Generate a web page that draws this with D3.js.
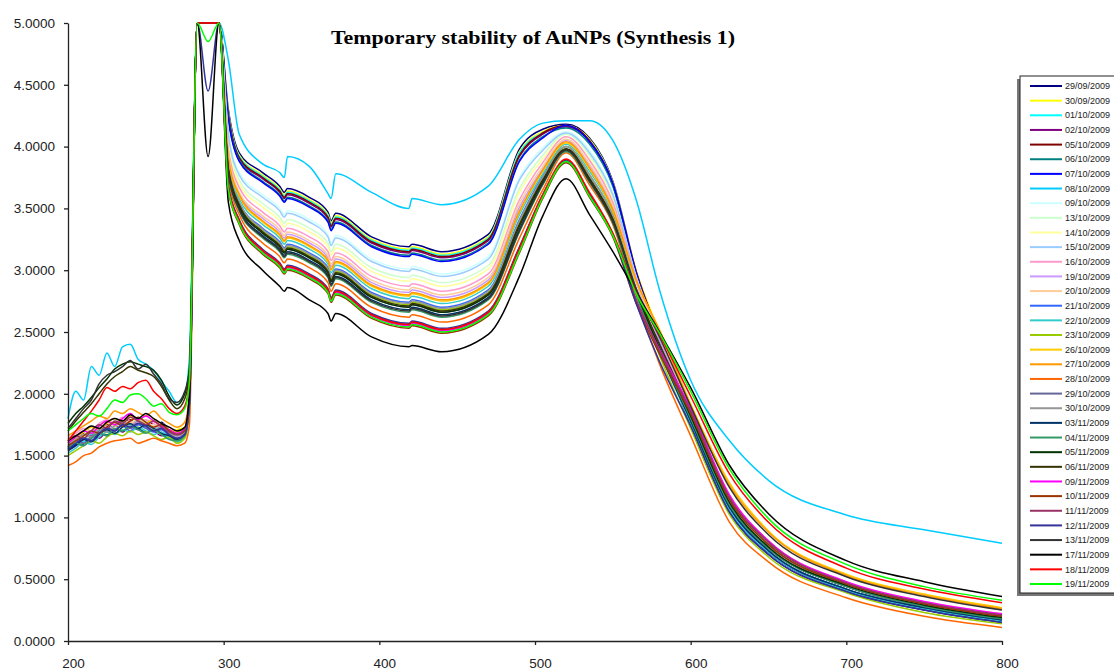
<!DOCTYPE html>
<html>
<head>
<meta charset="utf-8">
<script src="https://cdn.jsdelivr.net/npm/d3@7"></script>
<style>
    body { margin: 0; background: #fff; }
    svg { display: block; font-family: "Liberation Sans", Arial, sans-serif; }
</style>
</head>
<body>
<div id="chart"></div>
<script>
// wavelength grid (nm) shared by every spectrum
var wavelengths = [200, 205, 210, 215, 220, 225, 230, 235, 240, 245, 250, 255, 260, 265, 270, 275, 278,
    283, 290, 297,
    303, 310, 325, 336, 339, 341, 355, 367, 369, 372, 395, 419, 421, 440,
    470, 490, 505, 520, 535, 550, 565, 580, 600, 625, 650, 700, 750, 800];

var dates = ['29/09/2009', '30/09/2009', '01/10/2009', '02/10/2009', '05/10/2009', '06/10/2009', '07/10/2009',
    '08/10/2009', '09/10/2009', '13/10/2009', '14/10/2009', '15/10/2009', '16/10/2009', '19/10/2009',
    '20/10/2009', '21/10/2009', '22/10/2009', '23/10/2009', '26/10/2009', '27/10/2009', '28/10/2009',
    '29/10/2009', '30/10/2009', '03/11/2009', '04/11/2009', '05/11/2009', '06/11/2009', '09/11/2009',
    '10/11/2009', '11/11/2009', '12/11/2009', '13/11/2009', '17/11/2009', '18/11/2009', '19/11/2009'];

var colors = ['#000080', '#FFFF00', '#00FFFF', '#800080', '#800000', '#008080', '#0000FF', '#00CCFF',
    '#CCFFFF', '#CCFFCC', '#FFFF99', '#99CCFF', '#FF99CC', '#CC99FF', '#FFCC99', '#3366FF', '#33CCCC',
    '#99CC00', '#FFCC00', '#FF9900', '#FF6600', '#666699', '#969696', '#003366', '#339966', '#003300',
    '#333300', '#FF00FF', '#993300', '#993366', '#333399', '#333333', '#000000', '#FF0000', '#00FF00'];

// one row per date, same order as dates
var absorbance = [
    [1.56,1.60,1.65,1.68,1.72,1.70,1.75,1.78,1.74,1.79,1.76,1.73,1.77,1.70,1.66,1.68,1.95, 5.3,5.3,5.3, 4.30,3.95,3.79,3.68,3.63,3.66,3.59,3.47,3.40,3.46,3.27,3.19,3.21,3.15, 3.29,3.98,4.14,4.18,4.07,3.72,2.99,2.43,1.74,1.04,0.70,0.40,0.25,0.15],
    [1.62,1.66,1.64,1.70,1.74,1.78,1.73,1.76,1.81,1.77,1.74,1.78,1.72,1.69,1.71,1.73,2.00, 5.3,5.3,5.3, 4.28,3.93,3.77,3.66,3.61,3.64,3.57,3.45,3.38,3.44,3.25,3.17,3.19,3.13, 3.27,3.96,4.12,4.17,4.06,3.71,3.00,2.49,1.82,1.12,0.76,0.45,0.29,0.19],
    [1.58,1.63,1.61,1.67,1.71,1.69,1.74,1.77,1.73,1.76,1.74,1.71,1.74,1.68,1.65,1.69,1.95, 5.3,5.3,5.3, 4.27,3.92,3.76,3.65,3.60,3.63,3.56,3.44,3.37,3.43,3.24,3.16,3.18,3.12, 3.26,3.95,4.11,4.16,4.05,3.70,2.98,2.45,1.78,1.08,0.73,0.42,0.27,0.17],
    [1.54,1.58,1.63,1.66,1.64,1.70,1.72,1.69,1.74,1.71,1.73,1.70,1.66,1.68,1.63,1.66,1.90, 5.3,5.3,5.3, 4.25,3.90,3.74,3.63,3.58,3.61,3.54,3.42,3.35,3.41,3.22,3.14,3.16,3.10, 3.24,3.92,4.10,4.16,4.04,3.69,2.97,2.44,1.76,1.06,0.72,0.41,0.26,0.16],
    [1.60,1.64,1.68,1.65,1.71,1.75,1.72,1.77,1.79,1.74,1.78,1.75,1.71,1.69,1.67,1.70,1.95, 5.3,5.3,5.3, 4.26,3.91,3.75,3.64,3.59,3.62,3.55,3.43,3.36,3.42,3.23,3.15,3.17,3.11, 3.25,3.93,4.11,4.17,4.05,3.70,2.99,2.47,1.80,1.10,0.75,0.44,0.28,0.18],
    [1.57,1.61,1.59,1.64,1.69,1.67,1.72,1.70,1.75,1.72,1.69,1.72,1.68,1.64,1.62,1.67,1.92, 5.3,5.3,5.3, 4.23,3.89,3.72,3.61,3.56,3.59,3.52,3.40,3.33,3.39,3.20,3.12,3.14,3.08, 3.22,3.89,4.08,4.15,4.02,3.68,2.97,2.45,1.78,1.08,0.73,0.42,0.27,0.17],
    [1.55,1.59,1.64,1.62,1.68,1.72,1.70,1.75,1.73,1.77,1.74,1.72,1.75,1.69,1.64,1.68,1.92, 5.3,5.3,5.3, 4.22,3.88,3.71,3.60,3.55,3.58,3.51,3.39,3.32,3.38,3.19,3.11,3.13,3.07, 3.21,3.88,4.07,4.17,4.04,3.70,2.98,2.44,1.76,1.06,0.72,0.41,0.26,0.16],
    [1.80,2.02,1.95,2.22,2.15,2.33,2.22,2.38,2.40,2.28,2.24,2.19,2.10,2.02,1.93,2.00,2.30, 5.3,5.3,5.3, 4.70,4.10,3.86,3.79,3.75,3.92,3.84,3.62,3.58,3.78,3.63,3.50,3.58,3.53, 3.68,4.06,4.19,4.21,4.21,4.05,3.57,2.84,2.11,1.62,1.30,1.02,0.90,0.79],
    [1.59,1.63,1.67,1.70,1.68,1.73,1.76,1.73,1.78,1.75,1.72,1.75,1.70,1.67,1.64,1.68,1.95, 5.3,5.3,5.3, 4.12,3.79,3.61,3.50,3.45,3.48,3.41,3.29,3.22,3.28,3.09,3.01,3.03,2.97, 3.11,3.75,3.99,4.12,3.97,3.62,2.95,2.46,1.82,1.12,0.76,0.45,0.29,0.19],
    [1.63,1.67,1.65,1.71,1.74,1.72,1.77,1.80,1.76,1.81,1.78,1.74,1.76,1.71,1.68,1.71,1.98, 5.3,5.3,5.3, 4.05,3.73,3.54,3.43,3.38,3.41,3.34,3.22,3.15,3.21,3.02,2.94,2.96,2.90, 3.04,3.66,3.93,4.10,3.93,3.59,2.94,2.46,1.84,1.14,0.78,0.46,0.30,0.20],
    [1.56,1.61,1.66,1.64,1.70,1.68,1.73,1.71,1.77,1.74,1.71,1.73,1.69,1.66,1.64,1.67,1.92, 5.3,5.3,5.3, 4.02,3.70,3.51,3.40,3.35,3.38,3.31,3.19,3.12,3.18,2.99,2.91,2.93,2.87, 3.01,3.63,3.90,4.08,3.90,3.56,2.92,2.45,1.84,1.14,0.78,0.46,0.30,0.20],
    [1.61,1.65,1.63,1.69,1.73,1.70,1.75,1.78,1.74,1.79,1.76,1.72,1.74,1.69,1.66,1.70,1.96, 5.3,5.3,5.3, 4.10,3.77,3.59,3.48,3.43,3.46,3.39,3.27,3.20,3.26,3.07,2.99,3.01,2.95, 3.09,3.73,3.97,4.11,3.95,3.61,2.94,2.45,1.82,1.12,0.76,0.45,0.29,0.19],
    [1.64,1.68,1.72,1.70,1.76,1.79,1.76,1.81,1.78,1.75,1.79,1.76,1.72,1.70,1.67,1.71,1.98, 5.3,5.3,5.3, 3.98,3.67,3.47,3.36,3.31,3.34,3.27,3.15,3.08,3.14,2.95,2.87,2.89,2.83, 2.97,3.57,3.87,4.08,3.89,3.55,2.93,2.46,1.86,1.16,0.80,0.47,0.31,0.21],
    [1.58,1.62,1.60,1.66,1.70,1.74,1.71,1.76,1.73,1.77,1.74,1.70,1.73,1.68,1.65,1.68,1.94, 5.3,5.3,5.3, 3.93,3.62,3.42,3.31,3.26,3.29,3.22,3.10,3.03,3.09,2.90,2.82,2.84,2.78, 2.92,3.51,3.82,4.05,3.85,3.51,2.90,2.43,1.84,1.14,0.78,0.46,0.30,0.20],
    [1.62,1.66,1.70,1.68,1.73,1.77,1.74,1.79,1.76,1.80,1.77,1.74,1.76,1.71,1.69,1.72,1.97, 5.3,5.3,5.3, 3.95,3.63,3.44,3.33,3.28,3.31,3.24,3.12,3.05,3.11,2.92,2.84,2.86,2.80, 2.94,3.54,3.84,4.06,3.86,3.52,2.91,2.47,1.88,1.18,0.81,0.48,0.32,0.22],
    [1.55,1.60,1.58,1.64,1.68,1.66,1.71,1.74,1.70,1.75,1.72,1.69,1.71,1.66,1.63,1.66,1.92, 5.3,5.3,5.3, 3.85,3.55,3.34,3.23,3.18,3.21,3.14,3.02,2.95,3.01,2.82,2.74,2.76,2.70, 2.84,3.41,3.76,4.00,3.77,3.44,2.84,2.36,1.78,1.08,0.73,0.42,0.27,0.17],
    [1.52,1.56,1.61,1.59,1.65,1.69,1.67,1.71,1.69,1.73,1.70,1.67,1.69,1.64,1.61,1.65,1.90, 5.3,5.3,5.3, 3.88,3.58,3.37,3.26,3.21,3.24,3.17,3.05,2.98,3.04,2.85,2.77,2.79,2.73, 2.87,3.45,3.78,4.02,3.80,3.47,2.85,2.35,1.76,1.06,0.72,0.41,0.26,0.16],
    [1.50,1.54,1.58,1.62,1.60,1.65,1.68,1.66,1.70,1.67,1.69,1.66,1.63,1.65,1.60,1.64,1.88, 5.3,5.3,5.3, 3.83,3.54,3.32,3.21,3.16,3.19,3.12,3.00,2.93,2.99,2.80,2.72,2.74,2.68, 2.82,3.38,3.74,4.00,3.77,3.44,2.82,2.31,1.72,1.02,0.68,0.39,0.23,0.14],
    [1.60,1.64,1.69,1.73,1.71,1.76,1.80,1.77,1.82,1.79,1.76,1.80,1.74,1.71,1.69,1.72,1.98, 5.3,5.3,5.3, 3.90,3.60,3.39,3.28,3.23,3.26,3.19,3.07,3.00,3.06,2.87,2.79,2.81,2.75, 2.89,3.47,3.80,4.03,3.82,3.48,2.91,2.52,1.92,1.28,0.89,0.54,0.38,0.27],
    [1.66,1.70,1.74,1.78,1.82,1.80,1.86,1.84,1.88,1.85,1.82,1.86,1.80,1.76,1.73,1.77,2.02, 5.3,5.3,5.3, 3.91,3.61,3.40,3.29,3.24,3.27,3.20,3.08,3.01,3.07,2.88,2.80,2.82,2.76, 2.90,3.48,3.81,4.04,3.83,3.49,2.92,2.51,1.90,1.26,0.88,0.53,0.37,0.26],
    [1.42,1.45,1.50,1.52,1.57,1.60,1.62,1.63,1.64,1.60,1.62,1.64,1.62,1.60,1.58,1.60,1.75, 5.3,5.3,5.3, 3.73,3.45,3.22,3.11,3.06,3.09,3.02,2.90,2.83,2.89,2.70,2.62,2.64,2.58, 2.72,3.26,3.65,3.95,3.69,3.37,2.76,2.24,1.66,0.96,0.64,0.35,0.20,0.11],
    [1.57,1.62,1.60,1.66,1.70,1.73,1.70,1.75,1.72,1.76,1.73,1.70,1.72,1.67,1.64,1.68,1.93, 5.3,5.3,5.3, 3.81,3.52,3.30,3.19,3.14,3.17,3.10,2.98,2.91,2.97,2.78,2.70,2.72,2.66, 2.80,3.36,3.72,3.98,3.74,3.41,2.82,2.36,1.80,1.10,0.75,0.44,0.28,0.18],
    [1.59,1.63,1.67,1.65,1.71,1.69,1.74,1.77,1.73,1.78,1.75,1.71,1.73,1.68,1.66,1.69,1.95, 5.3,5.3,5.3, 3.84,3.55,3.33,3.22,3.17,3.20,3.13,3.01,2.94,3.00,2.81,2.73,2.75,2.69, 2.83,3.40,3.75,4.00,3.77,3.44,2.85,2.40,1.84,1.14,0.78,0.46,0.30,0.20],
    [1.54,1.58,1.63,1.61,1.67,1.71,1.68,1.73,1.76,1.72,1.75,1.72,1.68,1.66,1.63,1.67,1.92, 5.3,5.3,5.3, 3.79,3.50,3.28,3.17,3.12,3.15,3.08,2.96,2.89,2.95,2.76,2.68,2.70,2.64, 2.78,3.33,3.71,3.97,3.73,3.40,2.81,2.34,1.78,1.08,0.73,0.42,0.27,0.17],
    [1.56,1.60,1.58,1.64,1.68,1.66,1.72,1.70,1.74,1.71,1.68,1.71,1.67,1.63,1.62,1.66,1.90, 5.3,5.3,5.3, 3.77,3.48,3.26,3.15,3.10,3.13,3.06,2.94,2.87,2.93,2.74,2.66,2.68,2.62, 2.76,3.31,3.69,3.96,3.71,3.38,2.80,2.35,1.80,1.10,0.75,0.44,0.28,0.18],
    [1.76,1.84,1.90,1.97,2.05,2.12,2.20,2.24,2.26,2.24,2.22,2.19,2.11,1.98,1.91,2.00,2.20, 5.3,5.3,5.3, 3.81,3.52,3.30,3.19,3.14,3.17,3.10,2.98,2.91,2.97,2.78,2.70,2.72,2.66, 2.80,3.36,3.72,3.98,3.74,3.41,2.83,2.37,1.82,1.12,0.76,0.45,0.29,0.19],
    [1.70,1.78,1.85,1.92,2.00,2.08,2.14,2.18,2.22,2.19,2.17,2.14,2.06,1.95,1.88,1.96,2.15, 5.3,5.3,5.3, 3.82,3.53,3.31,3.20,3.15,3.18,3.11,2.99,2.92,2.98,2.79,2.71,2.73,2.67, 2.81,3.37,3.73,3.98,3.74,3.41,2.84,2.40,1.86,1.16,0.80,0.47,0.31,0.21],
    [1.60,1.65,1.70,1.68,1.74,1.78,1.75,1.80,1.84,1.79,1.82,1.78,1.74,1.71,1.68,1.72,1.98, 5.3,5.3,5.3, 3.66,3.39,3.15,3.04,2.99,3.02,2.95,2.83,2.76,2.82,2.63,2.55,2.57,2.51, 2.65,3.17,3.60,3.88,3.60,3.28,2.75,2.36,1.88,1.18,0.81,0.48,0.32,0.22],
    [1.58,1.62,1.66,1.70,1.68,1.73,1.77,1.74,1.78,1.81,1.77,1.73,1.75,1.70,1.67,1.70,1.96, 5.3,5.3,5.3, 3.64,3.37,3.13,3.02,2.97,3.00,2.93,2.81,2.74,2.80,2.61,2.53,2.55,2.49, 2.63,3.14,3.58,3.87,3.59,3.27,2.73,2.32,1.84,1.14,0.78,0.46,0.30,0.20],
    [1.62,1.66,1.64,1.70,1.75,1.72,1.78,1.76,1.81,1.78,1.75,1.78,1.73,1.69,1.67,1.71,1.97, 5.3,5.3,5.3, 3.67,3.40,3.16,3.05,3.00,3.03,2.96,2.84,2.77,2.83,2.64,2.56,2.58,2.52, 2.66,3.18,3.61,3.89,3.61,3.29,2.76,2.35,1.86,1.16,0.80,0.47,0.31,0.21],
    [1.55,1.60,1.64,1.62,1.68,1.72,1.70,1.75,1.73,1.76,1.74,1.70,1.72,1.67,1.64,1.67,1.92, 5.3,4.45,5.3, 3.68,3.41,3.17,3.06,3.01,3.04,2.97,2.85,2.78,2.84,2.65,2.57,2.59,2.53, 2.67,3.19,3.61,3.89,3.62,3.29,2.73,2.26,1.74,1.04,0.70,0.40,0.25,0.15],
    [1.72,1.80,1.88,1.95,2.08,2.15,2.18,2.22,2.27,2.20,2.24,2.16,2.08,1.96,1.93,2.02,2.20, 5.3,5.3,5.3, 3.78,3.49,3.27,3.16,3.11,3.14,3.07,2.95,2.88,2.94,2.75,2.67,2.69,2.63, 2.77,3.32,3.70,3.97,3.72,3.39,2.85,2.46,1.90,1.24,0.86,0.52,0.36,0.25],
    [1.62,1.66,1.70,1.74,1.72,1.77,1.80,1.78,1.83,1.80,1.84,1.80,1.76,1.73,1.70,1.73,2.00, 5.3,3.92,5.3, 3.55,3.24,3.00,2.87,2.83,2.86,2.76,2.65,2.59,2.65,2.46,2.38,2.39,2.34, 2.48,2.95,3.44,3.74,3.45,3.15,2.82,2.50,2.05,1.42,1.03,0.65,0.48,0.36],
    [1.62,1.70,1.78,1.86,1.95,2.05,2.02,2.06,2.04,2.09,2.11,2.02,1.96,1.88,1.84,1.90,2.10, 5.3,5.3,5.3, 3.67,3.40,3.16,3.05,3.00,3.03,2.96,2.84,2.77,2.83,2.64,2.56,2.58,2.52, 2.66,3.18,3.61,3.90,3.63,3.30,2.82,2.48,1.98,1.35,0.96,0.59,0.42,0.31],
    [1.70,1.75,1.80,1.84,1.82,1.88,1.95,1.93,1.99,2.00,1.96,1.90,1.92,1.85,1.83,1.88,2.10, 5.3,4.85,5.3, 3.65,3.38,3.14,3.03,2.98,3.01,2.94,2.82,2.75,2.81,2.62,2.54,2.56,2.50, 2.64,3.15,3.59,3.88,3.60,3.28,2.81,2.49,2.02,1.39,0.99,0.62,0.44,0.33]
];

var xTicks = [200, 300, 400, 500, 600, 700, 800];
var yTicks = [0, 0.5, 1, 1.5, 2, 2.5, 3, 3.5, 4, 4.5, 5];

var width = 1114, height = 672;
var svg = d3.select('#chart').append('svg')
    .attr('width', width)
    .attr('height', height);

var x = d3.scaleLinear().domain([200, 800]).range([68, 1002]);
var y = d3.scaleLinear().domain([0, 5]).range([641, 23]);

// excel pins anything above the axis max to the top edge
var line = d3.line()
    .x(function (d, i) { return x(wavelengths[i]); })
    .y(function (d) { return y(Math.min(d, 5)); })
    .curve(d3.curveMonotoneX);

svg.append('g')
    .attr('class', 'spectra')
    .selectAll('path')
    .data(absorbance)
    .join('path')
    .attr('d', line)
    .attr('fill', 'none')
    .attr('stroke', function (d, i) { return colors[i]; })
    .attr('stroke-width', 1.5)
    .attr('stroke-linejoin', 'round');

var yAxis = svg.append('g')
    .attr('transform', 'translate(68,0)')
    .call(d3.axisLeft(y).tickValues(yTicks).tickFormat(d3.format('.4f'))
        .tickSize(4).tickSizeOuter(0).tickPadding(9));

var xAxis = svg.append('g')
    .attr('transform', 'translate(0,641)')
    .call(d3.axisBottom(x).tickValues(xTicks).tickFormat(d3.format('d'))
        .tickSize(4).tickSizeOuter(0).tickPadding(13));

xAxis.selectAll('text').attr('x', 5);

[xAxis, yAxis].forEach(function (axis) {
    axis.select('.domain').attr('stroke', '#222').attr('stroke-width', 1.3);
    axis.selectAll('.tick line').attr('stroke', '#222').attr('stroke-width', 1.3);
    axis.selectAll('text')
        .attr('fill', '#222')
        .style('font-family', '"Liberation Sans", Arial, sans-serif')
        .style('font-size', '13.5px');
});

svg.append('text')
    .attr('x', 533)
    .attr('y', 44)
    .attr('text-anchor', 'middle')
    .attr('textLength', 404)
    .attr('lengthAdjust', 'spacingAndGlyphs')
    .style('font-family', '"Liberation Serif", "Times New Roman", serif')
    .style('font-weight', 'bold')
    .style('font-size', '19px')
    .text('Temporary stability of AuNPs (Synthesis 1)');

// legend, cut off by the right edge like the original
var legendY = d3.scalePoint().domain(dates).range([86, 584]);
var legend = svg.append('g').attr('class', 'legend');

legend.append('rect')
    .attr('x', 1017).attr('y', 79)
    .attr('width', 120).attr('height', 517)
    .attr('fill', '#777');

legend.append('rect')
    .attr('x', 1020).attr('y', 76)
    .attr('width', 120).attr('height', 517)
    .attr('fill', '#fff')
    .attr('stroke', '#222')
    .attr('stroke-width', 1);

var items = legend.selectAll('g.item')
    .data(dates)
    .join('g')
    .attr('class', 'item')
    .attr('transform', function (d) { return 'translate(0,' + legendY(d) + ')'; });

items.append('line')
    .attr('x1', 1030).attr('x2', 1062)
    .attr('stroke', function (d, i) { return colors[i]; })
    .attr('stroke-width', 2);

items.append('text')
    .attr('x', 1065)
    .attr('dy', '0.35em')
    .attr('fill', '#222')
    .style('font-size', '9px')
    .text(function (d) { return d; });
</script>
</body>
</html>
